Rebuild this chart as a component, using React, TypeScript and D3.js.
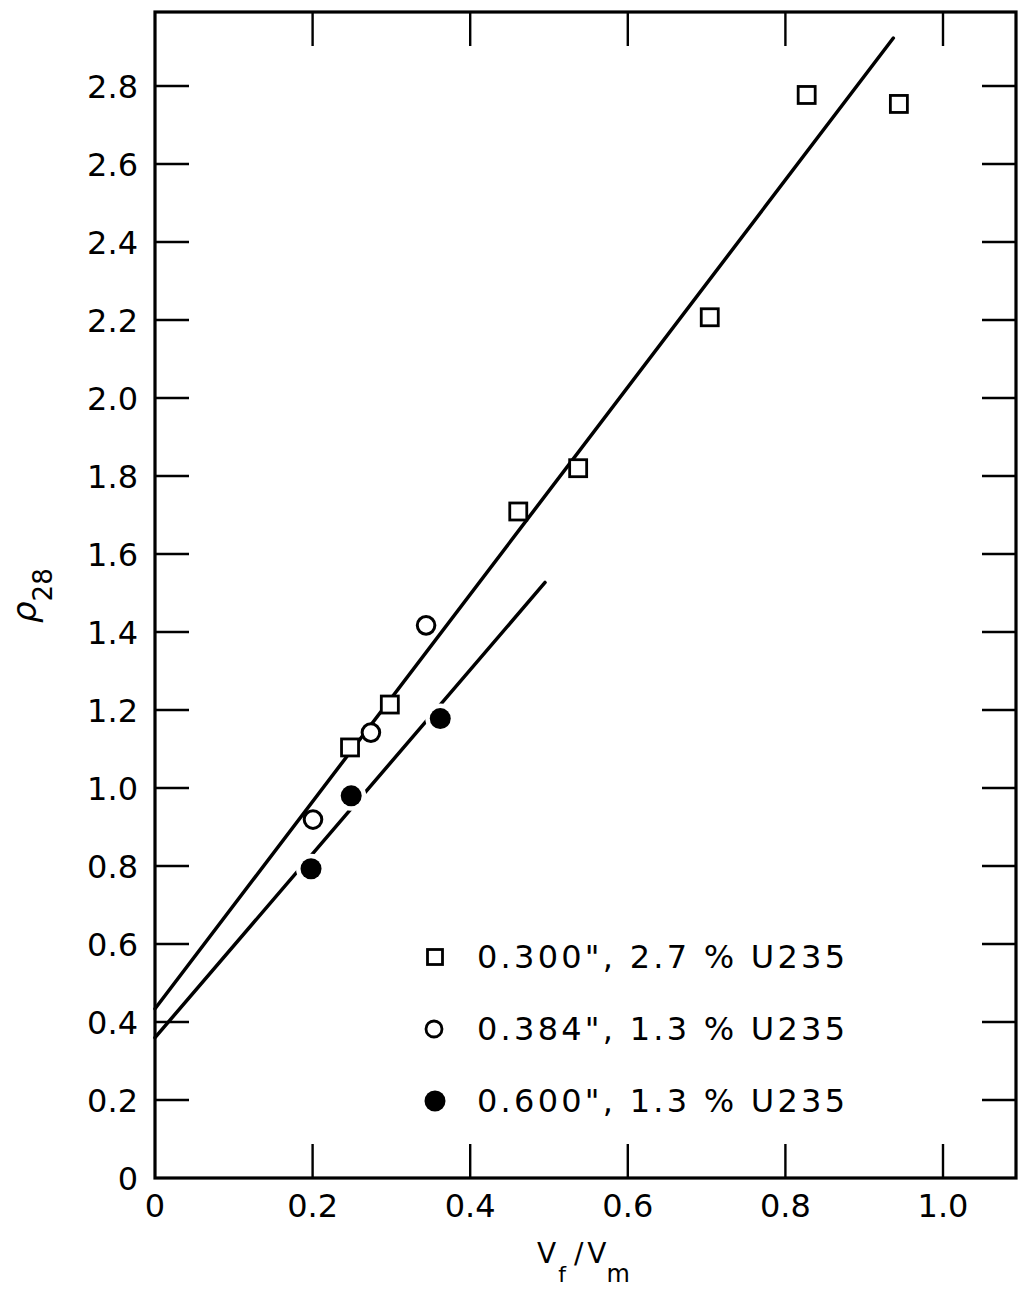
import * as d3 from 'd3';

// data
const squareX = [0.2475, 0.298, 0.461, 0.537, 0.704, 0.827, 0.944];
const squareY = [1.104, 1.214, 1.709, 1.82, 2.207, 2.777, 2.754];
const openX = [0.2005, 0.274, 0.344];
const openY = [0.919, 1.142, 1.417];
const filledX = [0.198, 0.249, 0.362];
const filledY = [0.793, 0.98, 1.178];

// fitted lines (endpoints)
const upperLineX = [0, 0.937];
const upperLineY = [0.434, 2.923];
const lowerLineX = [0, 0.495];
const lowerLineY = [0.36, 1.527];

const xTicks = [0, 0.2, 0.4, 0.6, 0.8, 1.0];
const yTicks = [0, 0.2, 0.4, 0.6, 0.8, 1.0, 1.2, 1.4, 1.6, 1.8, 2.0, 2.2, 2.4, 2.6, 2.8];
const legendLabels = ['0.300", 2.7 % U235', '0.384", 1.3 % U235', '0.600", 1.3 % U235'];

const W = 1021;
const H = 1301;
const left = 155, right = 1016, top = 12, bottom = 1178;
const font = "'DejaVu Sans', sans-serif";

export default function App() {
  const x = d3.scaleLinear().domain([0, 1.0]).range([left, 943]);
  const y = d3.scaleLinear().domain([0, 2.8]).range([bottom, 86]);

  const line = d3.line<[number, number]>().x(d => x(d[0])).y(d => y(d[1]));
  const upper = line(upperLineX.map((v, i) => [v, upperLineY[i]]));
  const lower = line(lowerLineX.map((v, i) => [v, lowerLineY[i]]));

  const sq = 17;
  const tick = 34;

  return (
    <div style={{ position: 'absolute', left: 0, top: 0, background: '#fff' }}>
      <svg width={W} height={H} style={{ display: 'block' }}>
        <rect width={W} height={H} fill="#fff" />

        {/* frame */}
        <rect x={left} y={top} width={right - left} height={bottom - top}
          fill="none" stroke="#000" strokeWidth={3.2} />

        {/* ticks */}
        {xTicks.filter(t => t > 0).map(t => (
          <g key={'xt' + t} stroke="#000" strokeWidth={2.4}>
            <line x1={x(t)} x2={x(t)} y1={bottom} y2={bottom - tick} />
            <line x1={x(t)} x2={x(t)} y1={top} y2={top + tick} />
          </g>
        ))}
        {yTicks.filter(t => t > 0).map(t => (
          <g key={'yt' + t} stroke="#000" strokeWidth={2.4}>
            <line x1={left} x2={left + tick} y1={y(t)} y2={y(t)} />
            <line x1={right} x2={right - tick} y1={y(t)} y2={y(t)} />
          </g>
        ))}

        {/* tick labels */}
        {xTicks.map(t => (
          <text key={'xl' + t} x={x(t)} y={1217} textAnchor="middle"
            fontFamily={font} fontSize={32} fill="#000">
            {t === 0 ? '0' : d3.format('.1f')(t)}
          </text>
        ))}
        {yTicks.map(t => (
          <text key={'yl' + t} x={138} y={y(t) + 11.5} textAnchor="end"
            fontFamily={font} fontSize={32} fill="#000">
            {t === 0 ? '0' : d3.format('.1f')(t)}
          </text>
        ))}

        {/* axis titles */}
        <text x={537} y={1263} fontFamily={font} fontSize={28} fill="#000">
          V<tspan fontSize={22} dy={19} dx={2}>f</tspan>
          <tspan fontSize={28} dy={-19} dx={8}>/</tspan>
          <tspan fontSize={28} dx={4}>V</tspan>
          <tspan fontSize={24} dy={19}>m</tspan>
        </text>
        <text transform="translate(36,623) rotate(-90)" fontFamily={font} fill="#000">
          <tspan fontSize={34} fontStyle="italic">ρ</tspan>
          <tspan fontSize={26} dy={16}>28</tspan>
        </text>

        {/* lower line with filled circles (white halo breaks line) */}
        <path d={lower ?? ''} fill="none" stroke="#000" strokeWidth={3.5} strokeLinecap="round" />
        {filledX.map((v, i) => (
          <circle key={'fc' + i} cx={x(v)} cy={y(filledY[i])} r={10.5}
            fill="#000" stroke="#fff" strokeWidth={9} paintOrder="stroke" />
        ))}

        {/* upper line */}
        <path d={upper ?? ''} fill="none" stroke="#000" strokeWidth={3.5} strokeLinecap="round" />

        {/* open markers */}
        {squareX.map((v, i) => (
          <rect key={'sq' + i} x={x(v) - sq / 2} y={y(squareY[i]) - sq / 2} width={sq} height={sq}
            fill="#fff" stroke="#000" strokeWidth={2.8} />
        ))}
        {openX.map((v, i) => (
          <circle key={'oc' + i} cx={x(v)} cy={y(openY[i])} r={8.8}
            fill="#fff" stroke="#000" strokeWidth={3} />
        ))}

        {/* legend */}
        <rect x={435 - 7.5} y={957 - 7.5} width={15} height={15} fill="#fff" stroke="#000" strokeWidth={2.8} />
        <circle cx={434} cy={1029} r={8} fill="#fff" stroke="#000" strokeWidth={2.8} />
        <circle cx={435} cy={1101} r={10.5} fill="#000" />
        {legendLabels.map((l, i) => (
          <text key={'lg' + i} x={477} y={968 + i * 72} fontFamily={font} fontSize={32}
            fill="#000" textLength={368} lengthAdjust="spacing">
            {l}
          </text>
        ))}
      </svg>
    </div>
  );
}
